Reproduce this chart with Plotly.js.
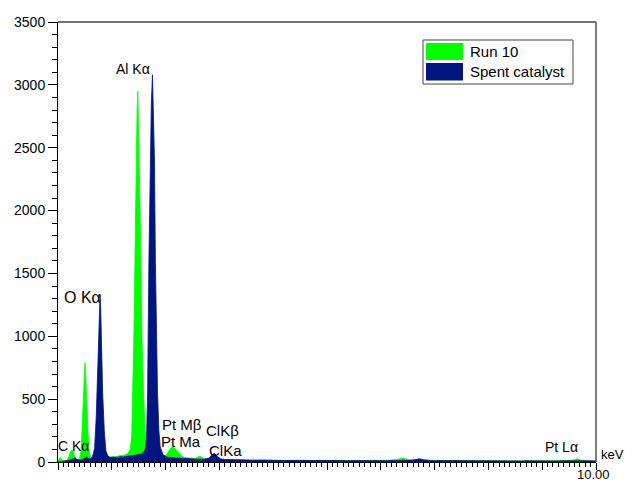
<!DOCTYPE html>
<html><head><meta charset="utf-8">
<script src="https://cdn.plot.ly/plotly-3.0.1.min.js"></script>
<style>html,body{margin:0;padding:0;background:#fff}#chart{width:625px;height:482px}</style>
</head><body><div id="chart"></div>
<script>
// Run 10 spectrum (keV, counts)
const run10Energy = [0,0.02,0.04,0.06,0.09,0.13,0.17,0.20,0.23,0.26,0.28,0.31,0.34,0.37,0.40,0.43,0.45,0.47,0.49,0.50,0.51,0.53,0.55,0.57,0.60,0.64,0.70,0.76,0.82,0.88,0.94,1.00,1.06,1.12,1.18,1.24,1.30,1.34,1.37,1.39,1.41,1.43,1.45,1.47,1.484,1.50,1.51,1.53,1.54,1.56,1.59,1.62,1.66,1.72,1.80,1.88,1.96,2.02,2.07,2.12,2.17,2.22,2.27,2.32,2.40,2.48,2.56,2.61,2.64,2.67,2.72,2.80,2.90,3.0,3.1,3.2,3.3,3.4,3.5,3.6,3.7,3.8,3.9,4.0,4.1,4.2,4.3,4.4,4.5,4.6,4.7,4.8,4.9,5.0,5.1,5.2,5.3,5.4,5.5,5.6,5.7,5.8,5.9,6.0,6.1,6.2,6.3,6.35,6.42,6.5,6.6,6.7,6.8,6.9,7.0,7.1,7.2,7.3,7.4,7.5,7.6,7.7,7.8,7.9,8.0,8.1,8.2,8.3,8.4,8.5,8.6,8.7,8.8,8.9,9.0,9.1,9.2,9.3,9.4,9.5,9.6,9.65,9.72,9.8,9.9,10.0];
const run10Counts = [5,25,38,22,10,8,14,40,80,95,85,45,20,18,30,90,300,560,760,790,740,520,300,120,45,25,22,30,28,35,38,42,40,48,52,55,70,100,200,500,1000,1600,2400,2800,2950,2650,2400,1900,1600,1000,550,250,110,60,45,40,42,60,95,122,110,85,60,40,32,28,30,40,48,38,25,22,20,18,20,16,18,15,17,14,16,13,15,14,12,13,11,13,12,12,10,11,12,12,10,11,12,11,13,11,10,13,12,14,13,16,20,25,32,18,14,12,11,11,10,10,12,11,9,10,11,9,10,10,9,8,10,9,10,9,8,10,9,9,10,8,9,10,9,11,18,26,15,9,8];
// Spent catalyst spectrum (keV, counts)
const spentEnergy = [0,0.05,0.10,0.15,0.20,0.25,0.29,0.32,0.35,0.40,0.45,0.50,0.53,0.56,0.60,0.64,0.68,0.71,0.735,0.755,0.77,0.782,0.795,0.81,0.83,0.86,0.89,0.93,0.98,1.04,1.10,1.16,1.22,1.28,1.34,1.40,1.46,1.52,1.58,1.62,1.645,1.665,1.69,1.713,1.735,1.756,1.775,1.793,1.81,1.83,1.85,1.875,1.90,1.95,2.02,2.10,2.20,2.30,2.40,2.50,2.60,2.70,2.80,2.86,2.91,2.96,3.02,3.10,3.2,3.3,3.4,3.5,3.6,3.7,3.8,3.9,4.0,4.1,4.2,4.3,4.4,4.5,4.6,4.7,4.8,4.9,5.0,5.1,5.2,5.3,5.4,5.5,5.6,5.7,5.8,5.9,6.0,6.1,6.2,6.3,6.4,6.5,6.58,6.65,6.72,6.8,6.9,7.0,7.1,7.2,7.3,7.4,7.5,7.6,7.7,7.8,7.9,8.0,8.1,8.2,8.3,8.4,8.5,8.6,8.7,8.8,8.9,9.0,9.1,9.2,9.3,9.4,9.5,9.6,9.7,9.8,9.9,10.0];
const spentCounts = [0,5,8,10,12,18,28,32,20,15,18,30,40,28,25,40,110,350,700,1050,1250,1330,1200,900,550,250,90,45,35,40,36,42,40,45,48,52,55,60,70,100,180,550,1600,2400,2850,3080,2800,2400,1600,1000,550,250,120,60,40,35,32,28,25,24,22,22,30,55,69,45,25,20,18,17,16,15,16,14,15,13,14,13,12,13,12,12,11,12,11,10,11,12,10,11,10,11,10,11,10,12,11,10,11,12,11,13,15,20,25,18,12,10,11,10,9,10,9,10,9,8,9,10,9,8,9,8,9,8,9,8,9,8,8,9,8,9,8,8,9,8,8,9,8];
const seriesNames = ['Run 10','Spent catalyst'];
const seriesColors = ['#00ff00','#001580'];
const yTickVals = [0,500,1000,1500,2000,2500,3000,3500];
const xTickVals = [0,1,2,3,4,5,6,7,8,9,10];
const xEndLabel = '10.00';
const xUnit = 'keV';
const peakLabels = [
  {text:'Al Kα', x:1.40, y:3130, size:14},
  {text:'O Kα', x:0.45, y:1305, size:16},
  {text:'C Kα', x:0.29, y:127, size:14},
  {text:'Pt Mβ', x:2.30, y:302, size:15},
  {text:'Pt Ma', x:2.28, y:165, size:15},
  {text:'ClKβ', x:3.05, y:247, size:15},
  {text:'ClKa', x:3.11, y:95, size:15},
  {text:'Pt Lα', x:9.35, y:119, size:14}
];

const font = 'Arial, "Liberation Sans", sans-serif';
const traces = [
  {x:run10Energy, y:run10Counts, name:seriesNames[0], type:'scatter', mode:'lines', fill:'tozeroy',
   line:{color:seriesColors[0], width:0.8}, fillcolor:seriesColors[0], showlegend:false, hoverinfo:'skip'},
  {x:spentEnergy, y:spentCounts, name:seriesNames[1], type:'scatter', mode:'lines', fill:'tozeroy',
   line:{color:seriesColors[1], width:0.8}, fillcolor:seriesColors[1], showlegend:false, hoverinfo:'skip'}
];

const annotations = peakLabels.map(p => ({
  text:p.text, x:p.x, y:p.y, xref:'x', yref:'y', showarrow:false,
  font:{family:font, size:p.size, color:'#000'}, xanchor:'center', yanchor:'middle'
}));
annotations.push({text:xUnit, xref:'paper', yref:'paper', x:(599-58)/538, y:0.016, xanchor:'left', yanchor:'middle',
  showarrow:false, font:{family:font, size:13, color:'#000'}});
annotations.push({text:xEndLabel, xref:'x', yref:'paper', x:10, y:(462-465)/440, xanchor:'center', yanchor:'top',
  xshift:-3, showarrow:false, font:{family:font, size:13, color:'#000'}});
// legend
const legX0 = (423-58)/538, legX1 = (573-58)/538;
const py = v => (462-v)/440;
annotations.push({text:seriesNames[0], xref:'paper', yref:'paper', x:(468-58)/538, y:py(51.5), xanchor:'left', yanchor:'middle',
  showarrow:false, font:{family:font, size:15, color:'#000'}});
annotations.push({text:seriesNames[1], xref:'paper', yref:'paper', x:(468-58)/538, y:py(71.5), xanchor:'left', yanchor:'middle',
  showarrow:false, font:{family:font, size:15, color:'#000'}});

const shapes = [
  {type:'line', xref:'paper', yref:'paper', x0:0, x1:1, y0:1, y1:1, line:{color:'#444', width:1.5}},
  {type:'line', xref:'paper', yref:'paper', x0:1, x1:1, y0:0, y1:1, line:{color:'#555', width:1.5}},
  {type:'rect', xref:'paper', yref:'paper', x0:legX0, x1:legX1, y0:py(84), y1:py(40), line:{color:'#444', width:1}, fillcolor:'#fff'},
  {type:'rect', xref:'paper', yref:'paper', x0:(426-58)/538, x1:(463-58)/538, y0:py(60), y1:py(43), line:{width:0}, fillcolor:seriesColors[0]},
  {type:'rect', xref:'paper', yref:'paper', x0:(426-58)/538, x1:(463-58)/538, y0:py(80.5), y1:py(63), line:{width:0}, fillcolor:seriesColors[1]}
];

const layout = {
  width:625, height:482,
  margin:{l:58, r:29, t:22, b:20, pad:0},
  paper_bgcolor:'#fff', plot_bgcolor:'#fff',
  showlegend:false,
  font:{family:font, size:14, color:'#000'},
  xaxis:{range:[0,10], tickmode:'array', tickvals:xTickVals, showticklabels:false,
    ticks:'outside', ticklen:7, tickwidth:1, tickcolor:'#000', showgrid:false, zeroline:false,
    showline:true, linecolor:'#000', linewidth:1,
    minor:{dtick:0.1, ticks:'outside', ticklen:4, tickcolor:'#000', tickwidth:1, showgrid:false}},
  yaxis:{range:[0,3500], tickmode:'array', tickvals:yTickVals,
    ticks:'outside', ticklen:9, tickwidth:1, tickcolor:'#000', showgrid:false, zeroline:false,
    showline:true, linecolor:'#000', linewidth:1, tickfont:{family:font, size:14},
    minor:{dtick:100, ticks:'outside', ticklen:5, tickcolor:'#000', tickwidth:1, showgrid:false}},
  annotations:annotations,
  shapes:shapes
};
Plotly.newPlot('chart', traces, layout, {staticPlot:true, displayModeBar:false});
</script></body></html>
